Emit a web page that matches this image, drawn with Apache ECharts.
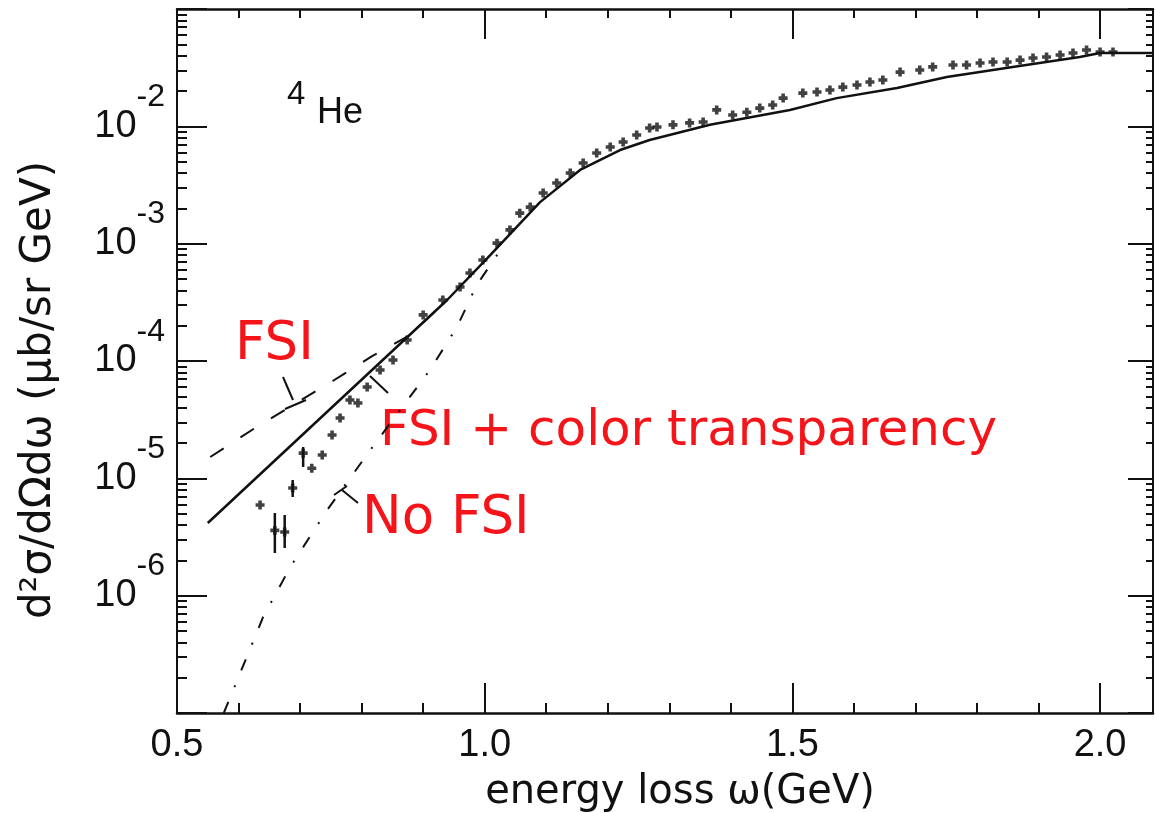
<!DOCTYPE html>
<html>
<head>
<meta charset="utf-8">
<script src="https://cdn.jsdelivr.net/npm/echarts@6/dist/echarts.min.js"></script>
<style>
  html, body { margin: 0; padding: 0; background: #fff; }
  #chart { width: 1155px; height: 813px; }
</style>
</head>
<body>
<div id="chart"></div>
<script>
// Energy loss ω (GeV) and cross section d²σ/dΩdω (μb/sr GeV) for 4He

// Solid curve: FSI + color transparency
const ctOmega = [0.550, 0.939, 1.009, 1.090, 1.155, 1.220, 1.268, 1.366, 1.496, 1.572, 1.670, 1.751, 1.858, 1.967, 2.000, 2.086];
const ctSigma = [4.16e-6, 3.31e-4, 8.0e-4, 2.26e-3, 4.25e-3, 6.28e-3, 7.64e-3, 1.03e-2, 1.38e-2, 1.74e-2, 2.12e-2, 2.63e-2, 3.21e-2, 3.90e-2, 4.22e-2, 4.22e-2];

// Dashed curve: FSI
const fsiOmega = [0.554, 0.627, 0.753, 0.817, 0.879, 0.939];
const fsiSigma = [1.52e-5, 2.69e-5, 6.75e-5, 1.10e-4, 1.67e-4, 3.31e-4];

// Dash-dot curve: no FSI
const noFsiOmega = [0.576, 0.586, 0.640, 0.684, 0.744, 0.814, 0.911, 0.955, 0.987, 1.017, 1.033];
const noFsiSigma = [1.0e-7, 1.34e-7, 6.58e-7, 1.75e-6, 5.37e-6, 1.74e-5, 8.38e-5, 1.95e-4, 4.44e-4, 7.55e-4, 1.03e-3];

// Measured points
const dataOmega = [0.635, 0.659, 0.675, 0.688, 0.705, 0.719, 0.736, 0.752, 0.765, 0.781, 0.794, 0.809, 0.830, 0.851, 0.874, 0.900, 0.932, 0.960, 0.976, 0.997,
  1.020, 1.041, 1.057, 1.074, 1.095, 1.117, 1.139, 1.160, 1.182, 1.204, 1.225, 1.247, 1.268, 1.280, 1.306, 1.333, 1.355, 1.377, 1.403, 1.426,
  1.447, 1.468, 1.485, 1.517, 1.540, 1.561, 1.582, 1.605, 1.626, 1.647, 1.675, 1.707, 1.728, 1.761, 1.783, 1.805, 1.826, 1.849, 1.870, 1.891,
  1.913, 1.935, 1.956, 1.978, 2.000, 2.021];
const dataSigma = [5.93e-6, 3.6e-6, 3.49e-6, 8.26e-6, 1.64e-5, 1.22e-5, 1.58e-5, 2.34e-5, 3.27e-5, 4.65e-5, 4.39e-5, 6.0e-5, 8.38e-5, 1.02e-4, 1.51e-4, 2.47e-4, 3.31e-4, 4.27e-4, 5.62e-4, 7.26e-4,
  1.01e-3, 1.31e-3, 1.82e-3, 2.05e-3, 2.70e-3, 3.29e-3, 4.0e-3, 4.87e-3, 5.93e-3, 6.67e-3, 7.35e-3, 8.43e-3, 9.68e-3, 9.86e-3, 1.03e-2, 1.07e-2, 1.09e-2, 1.38e-2, 1.25e-2, 1.32e-2,
  1.43e-2, 1.52e-2, 1.74e-2, 1.92e-2, 1.96e-2, 2.04e-2, 2.16e-2, 2.25e-2, 2.39e-2, 2.48e-2, 2.90e-2, 3.02e-2, 3.21e-2, 3.33e-2, 3.33e-2, 3.47e-2, 3.53e-2, 3.53e-2, 3.67e-2, 3.82e-2,
  3.90e-2, 4.06e-2, 4.22e-2, 4.47e-2, 4.30e-2, 4.30e-2];

// Error bars on the lowest-ω points
const barOmega = [0.659, 0.675, 0.688, 0.705];
const barLow = [2.31e-6, 2.55e-6, 6.93e-6, 1.25e-5];
const barHigh = [5.06e-6, 4.87e-6, 9.68e-6, 1.85e-5];

// Axis ranges and tick labels
const xMin = 0.5, xMax = 2.086;
const yMin = 1e-7, yMax = 1e-1;
const xTickLabels = [0.5, 1.0, 1.5, 2.0];
const yTickLabels = [1e-6, 1e-5, 1e-4, 1e-3, 1e-2];

// tick positions
const xMajor = [0.5, 1.0, 1.5, 2.0];
const xMinor = [];
for (let i = 6; i <= 20; i++) { if (i % 5 !== 0) xMinor.push(i / 10); }
const yMajor = [];
const yMinor = [];
for (let e = -7; e <= -1; e++) {
  yMajor.push(Math.pow(10, e));
  if (e < -1) for (let m = 2; m <= 9; m++) yMinor.push(m * Math.pow(10, e));
}

const pairs = (xs, ys) => xs.map((x, i) => [x, ys[i]]);
const INK = '#111';
const SANS = '"Liberation Sans", Arial, sans-serif';
const plus = 'path://M3,0H7V3H10V7H7V10H3V7H0V3H3Z';

function xAxisDef(pos, ticks, len, showLine, labels) {
  return {
    type: 'value', position: pos, min: xMin, max: xMax, gridIndex: 0,
    splitLine: { show: false },
    axisLine: { show: showLine, onZero: false, lineStyle: { color: INK, width: 2.5 } },
    axisTick: { show: true, inside: true, length: len, customValues: ticks, lineStyle: { color: INK, width: 2 } },
    axisLabel: labels ? {
      show: true, customValues: xTickLabels, margin: 14,
      color: INK, fontFamily: SANS, fontSize: 38,
      formatter: v => v.toFixed(1)
    } : { show: false }
  };
}
function yAxisDef(pos, ticks, len, showLine, labels) {
  return {
    type: 'log', logBase: 10, position: pos, min: yMin, max: yMax, gridIndex: 0,
    splitLine: { show: false },
    axisLine: { show: showLine, onZero: false, lineStyle: { color: INK, width: 2 } },
    axisTick: { show: true, inside: true, length: len, customValues: ticks, lineStyle: { color: INK, width: 2 } },
    axisLabel: labels ? {
      show: true, customValues: yTickLabels, margin: 12,
      // mantissa "10" centred on the tick, exponent raised above it
      formatter: v => '{b|10}{s|' + Math.round(Math.log10(v)) + '}',
      rich: {
        b: { fontFamily: SANS, fontSize: 38, color: INK, verticalAlign: 'top', padding: [26, 0, 0, 0] },
        s: { fontFamily: SANS, fontSize: 32, color: INK, verticalAlign: 'top', padding: [0, 0, 58, 0] }
      }
    } : { show: false }
  };
}

const xBottom = xAxisDef('bottom', xMajor, 30, true, true);
xBottom.name = 'energy loss ω(GeV)';
xBottom.nameLocation = 'middle';
xBottom.nameGap = 58;
xBottom.nameTextStyle = { fontFamily: '"DejaVu Sans", sans-serif', fontSize: 40, lineHeight: 44, color: INK, padding: [0, 0, 0, 30] };

const yLeft = yAxisDef('left', yMajor, 30, true, true);
yLeft.name = 'd²σ/dΩdω (μb/sr GeV)';
yLeft.nameLocation = 'middle';
yLeft.nameGap = 116;
yLeft.nameTextStyle = { fontFamily: '"DejaVu Sans", sans-serif', fontSize: 42, lineHeight: 44, color: INK, padding: [0, 58, 0, 0] };

const chart = echarts.init(document.getElementById('chart'), null, { renderer: 'canvas' });
chart.setOption({
  backgroundColor: '#fff',
  animation: false,
  grid: { left: 177, right: 2, top: 9, bottom: 100, containLabel: false, outerBoundsMode: 'none' },
  xAxis: [
    xBottom,
    xAxisDef('bottom', xMinor, 10, false, false),
    xAxisDef('top', xMajor, 30, true, false),
    xAxisDef('top', xMinor, 9, false, false)
  ],
  yAxis: [
    yLeft,
    yAxisDef('left', yMinor, 10, false, false),
    yAxisDef('right', yMajor, 25, true, false),
    yAxisDef('right', yMinor, 7, false, false)
  ],
  series: [
    {
      type: 'line', name: 'FSI + color transparency', data: pairs(ctOmega, ctSigma),
      showSymbol: false, smooth: false, z: 4,
      lineStyle: { color: INK, width: 2.5 }
    },
    {
      type: 'line', name: 'FSI', data: pairs(fsiOmega, fsiSigma),
      showSymbol: false, smooth: false, z: 3,
      lineStyle: { color: INK, width: 2, type: [16, 20] }
    },
    {
      type: 'line', name: 'No FSI', data: pairs(noFsiOmega, noFsiSigma),
      showSymbol: false, smooth: false, z: 3,
      lineStyle: { color: INK, width: 2, type: [12, 16, 2, 16] }
    },
    {
      type: 'scatter', name: 'data', data: pairs(dataOmega, dataSigma),
      symbol: plus, symbolSize: 9, z: 5,
      itemStyle: { color: INK }
    },
    {
      type: 'custom', name: 'errors',
      data: barOmega.map((x, i) => [x, barLow[i], barHigh[i]]),
      encode: { x: 0, y: [1, 2] }, z: 5,
      renderItem: (params, api) => {
        const lo = api.coord([api.value(0), api.value(1)]);
        const hi = api.coord([api.value(0), api.value(2)]);
        return {
          type: 'line',
          shape: { x1: lo[0], y1: lo[1], x2: hi[0], y2: hi[1] },
          style: { stroke: INK, lineWidth: 2.5 }
        };
      }
    }
  ],
  graphic: [
    // nucleus label
    { type: 'text', x: 287, y: 95, style: { text: '4', fontFamily: SANS, fontSize: 33, fill: INK, verticalAlign: 'middle' } },
    { type: 'text', x: 317, y: 113, style: { text: 'He', fontFamily: SANS, fontSize: 36, fill: INK, verticalAlign: 'middle' } },
    // curve annotations
    { type: 'text', x: 235, y: 345, style: { text: 'FSI', fontFamily: '"DejaVu Sans", sans-serif', fontSize: 53, fill: '#f5141a', verticalAlign: 'middle' } },
    { type: 'text', x: 380, y: 432, style: { text: 'FSI + color transparency', fontFamily: '"DejaVu Sans", sans-serif', fontSize: 50, fill: '#f5141a', verticalAlign: 'middle' } },
    { type: 'text', x: 362, y: 519, style: { text: 'No FSI', fontFamily: '"DejaVu Sans", sans-serif', fontSize: 53, fill: '#f5141a', verticalAlign: 'middle' } },
    // leader marks
    { type: 'polyline', shape: { points: [[283, 377], [293, 400]] }, style: { stroke: INK, lineWidth: 2, fill: null } },
    { type: 'polyline', shape: { points: [[285, 409], [306, 400]] }, style: { stroke: INK, lineWidth: 2, fill: null } },
    { type: 'polyline', shape: { points: [[370, 376], [388, 393]] }, style: { stroke: INK, lineWidth: 2, fill: null } },
    { type: 'polyline', shape: { points: [[334, 495], [347, 486]] }, style: { stroke: INK, lineWidth: 2, fill: null } },
    { type: 'polyline', shape: { points: [[342, 490], [358, 503]] }, style: { stroke: INK, lineWidth: 2, fill: null } }
  ]
});
</script>
</body>
</html>
